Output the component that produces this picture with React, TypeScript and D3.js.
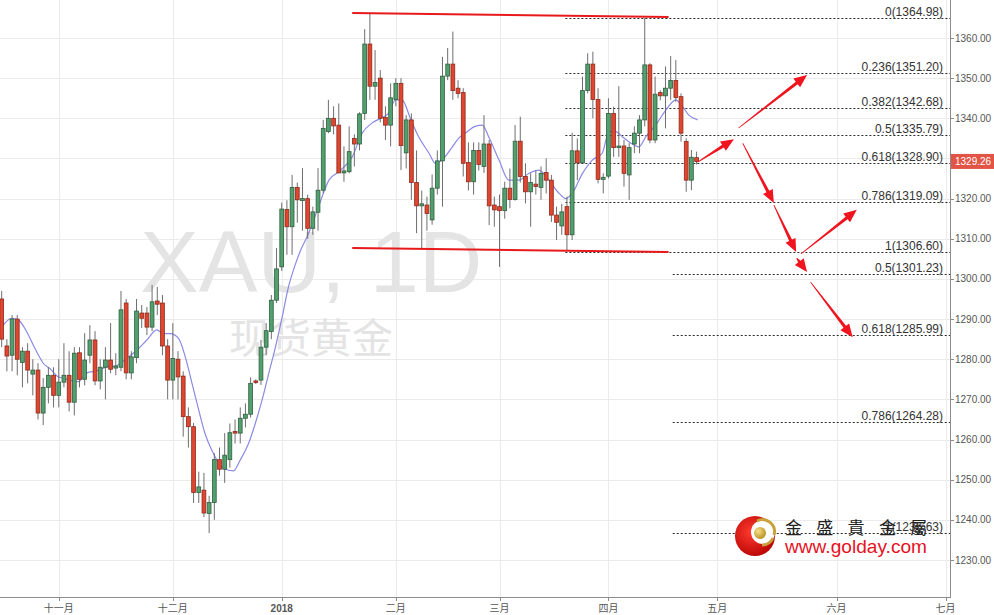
import React from "react";
import * as d3 from "d3";

// ---------- DATA ----------
const opens = [1295,1283.3,1281,1290,1279.2,1282,1276.3,1277.3,1266.6,1273,1276,1271,1274.3,1276,1269.3,1281.6,1275,1281,1284.8,1274.6,1278,1279.8,1277.8,1278,1294,1276.6,1280.4,1291.5,1291.5,1288,1294.5,1294,1283.3,1274.8,1280,1275.8,1265.7,1263.2,1246.8,1247.4,1241.6,1244.3,1255,1252.6,1255,1262,1261.6,1265.3,1266.3,1274.6,1274.8,1283,1286.9,1294.7,1303,1317.3,1313,1322.8,1319.5,1320,1312.6,1316.6,1322.1,1336.7,1340,1338.3,1326.4,1326.7,1335,1333.6,1341.2,1358.5,1348,1350,1340.2,1338.3,1344.7,1348.7,1331.4,1339.6,1324,1318.2,1318.4,1314.7,1322.6,1329.4,1350.5,1353.5,1347.5,1346.4,1329,1324.2,1332,1328,1333.6,1318.4,1318,1317,1322.6,1319.8,1334.3,1325.5,1321.7,1323.6,1322.8,1326.5,1324.6,1315.9,1313.2,1318,1311,1331.9,1328.9,1346.9,1353.5,1344.7,1324.8,1325.6,1341.2,1332.7,1333.1,1325.9,1333.6,1336.3,1339.6,1353.3,1334.6,1346.4,1345.6,1347.5,1349.4,1345.4,1334.2,1324.6,1330.2];
const highs = [1297,1285,1291,1291,1283,1284,1280,1279,1275.3,1278,1278,1280,1284,1282,1283,1283,1286.5,1288.5,1287,1280,1283,1289,1281.5,1297,1295,1282,1295,1293.5,1293,1298.5,1298,1296,1285,1289,1282,1277,1268,1264.1,1252,1251.7,1246,1256.6,1258,1261.6,1264,1265,1268,1269,1275.5,1275,1284.8,1289,1296,1307.7,1319,1319.6,1325.9,1324,1327.6,1321,1318,1327.6,1339.6,1344.6,1343,1343.7,1333,1338,1336,1341.5,1362.2,1366,1357,1352,1343,1348.7,1350,1350,1340.8,1341.2,1332,1322,1320.5,1326,1332,1355.3,1357.5,1361.6,1349.5,1347.5,1334,1334,1334,1340.8,1334.6,1320.5,1321,1324.2,1327.5,1338.3,1340.4,1328.8,1326.3,1327,1328,1330,1325.9,1318,1318.7,1320.5,1336.4,1335,1350.4,1356.2,1356.6,1347.5,1326.3,1345,1342.9,1348,1334.6,1333.8,1338,1340.8,1365,1353.7,1350.4,1347,1352.9,1355.5,1354.5,1346.2,1335,1332.1,1331.7];
const lows = [1283,1277,1277,1276,1273,1274,1271,1265,1263.6,1269,1268,1268,1273,1267,1266,1273,1273.5,1279,1273.5,1272.5,1270,1276.5,1276,1277,1275,1275,1279,1287.8,1286,1287,1291,1281,1270,1270,1270,1260.7,1258,1244.2,1244.2,1240.7,1236.7,1240,1251,1249.2,1253,1259,1259,1263,1265.5,1273.8,1273.6,1281,1285,1294,1302,1306,1306,1314,1312,1310,1311,1312,1321.4,1336.3,1336,1326.4,1324.2,1326.3,1328,1332,1339.6,1344.6,1344.6,1339,1334.6,1333,1343,1327.1,1327.5,1319.7,1311.4,1307.5,1312,1313.5,1321,1318,1349.5,1344.6,1345,1325.5,1322,1321,1327,1326.4,1313.4,1313,1303,1315,1317.6,1319.5,1324,1318.8,1313,1321,1319.7,1321.3,1314.2,1309.7,1311,1307.2,1309.7,1324.6,1328.8,1346.2,1340,1323.8,1321.3,1325,1330.4,1330.4,1323,1319.7,1331.3,1331.3,1338,1333.8,1333.8,1344.5,1337.5,1344.6,1344.1,1334.2,1321.7,1322.1,1328.5];
const closes = [1285,1280.8,1290,1280,1282,1277.3,1277.3,1266.6,1273,1276,1271,1274.3,1276,1269.3,1281.5,1275,1279.8,1284.8,1274.6,1278,1279.8,1277.5,1278.3,1292.3,1276.6,1280.6,1292,1290.2,1288,1294.3,1293.7,1283.3,1274.8,1280.2,1275.6,1265.7,1263.2,1246.8,1248.2,1241.7,1244.3,1255,1252.6,1256.1,1261.7,1261.6,1265.3,1266.3,1274,1274.2,1283,1287.1,1294.7,1302.5,1317.4,1313,1322.8,1319.7,1320,1312.6,1316.7,1322.1,1337.5,1340,1338.1,1326.4,1326.9,1331.7,1333.6,1341.1,1358.5,1348,1348.9,1340,1338.3,1345.1,1348.7,1333.2,1339.6,1324,1318.2,1318.7,1316.3,1322.6,1329.4,1350.5,1353.5,1346.9,1346.2,1328.8,1324.2,1332,1328.5,1333.6,1318.2,1317.2,1317,1322.6,1319.8,1334.3,1325.5,1321.7,1324,1323,1326.3,1324.6,1315.9,1314.1,1316.7,1311,1331.9,1328.9,1346.9,1353.5,1344.7,1324.8,1325.3,1341.2,1332.7,1333.1,1326.3,1332.7,1336.3,1339.6,1353.3,1334.6,1346,1345.6,1347.5,1349.4,1345.2,1336.3,1324.6,1330.3,1329.26];

const maIdx = [0.3,1.9,3.2,4.8,6.1,7.1,8,9.3,10.9,11.9,13.2,14.8,16.4,18.3,20.3,21.9,24.1,26.1,28,29.9,31.2,32.5,34.1,35.4,36.7,38,39.2,40.5,41.5,42.8,44.7,46,47.6,48.9,50.2,51.5,52.8,54.1,55.3,56.6,57.6,59.2,61.1,63.1,65,67.6,69.5,71.4,73.4,74.6,75.9,77.2,78.8,80.4,82.4,83.6,84.9,86.9,88.1,89.4,91.3,92.7,93.9,95.9,97.8,99.7,101.7,103.6,105.5,107.5,108.8,110,112,113.9,115.8,117.1,118.4,119.7,121.6,122.9,124.2,126.1,128.1,130,131.3,132.5,134.2];
const maVal = [1288.5,1290.2,1289.8,1286.9,1283.5,1281,1279,1277.7,1275.6,1275.3,1274.8,1274.4,1276.6,1277.1,1278.1,1278.3,1280.2,1282.3,1284.8,1287.3,1286.4,1286.4,1285.2,1280.6,1274,1267.3,1261.5,1257.4,1254.9,1252.8,1252.2,1254.9,1259,1264,1269.8,1276.5,1283.1,1290.6,1298,1303.5,1307,1311.4,1318,1324.6,1326.7,1330.4,1336.3,1338.8,1340.2,1341.2,1344.6,1344.6,1340,1335.4,1331.3,1328.8,1329.6,1332.9,1335,1336.3,1338,1338.3,1335.4,1329.6,1324.6,1324.6,1326.3,1327.1,1324.6,1321.3,1320,1321.3,1326.3,1329.6,1331.3,1336.7,1336.7,1335.4,1333.6,1332.9,1335.4,1338.3,1342.1,1344.6,1342.9,1340.8,1339.6];

const monthTickIdx = [11, 33, 54, 76, 96, 117, 138, 161, 182];
const monthTickLabels = ["十一月", "十二月", "2018", "二月", "三月", "四月", "五月", "六月", "七月"];
const priceTicks = [1360, 1350, 1340, 1330, 1320, 1310, 1300, 1290, 1280, 1270, 1260, 1250, 1240, 1230];

const fibRatiosA = ["0", "0.236", "0.382", "0.5", "0.618", "0.786", "1"];
const fibPricesA = [1364.98, 1351.2, 1342.68, 1335.79, 1328.9, 1319.09, 1306.6];
const fibStartA = 108.7;
const fibRatiosB = ["0.5", "0.618", "0.786", "1"];
const fibPricesB = [1301.23, 1285.99, 1264.28, 1236.63];
const fibStartB = 129.4;

const lastPrice = 1329.26;

const trendTop = [[67.6, 1366.2], [128.6, 1365.2]];
const trendBottom = [[67.6, 1307.7], [128.6, 1306.7]];

const arrowFrom = [[134.2, 1329.1], [142.1, 1337.6], [142.9, 1333.8], [148.9, 1318.4], [154.1, 1306.2], [153.3, 1305.2], [156.0, 1299.2]];
const arrowTo = [[141.2, 1334.8], [155.3, 1350.8], [148.9, 1318.9], [153.2, 1306.7], [164.9, 1317.2], [155.3, 1301.7], [164.1, 1285.5]];

// ---------- LAYOUT ----------
const W = 994, H = 615;
const AXIS_X = 950, AXIS_Y = 597;
const x = d3.scaleLinear().domain([0, 182]).range([1.7, 945.5]);
const y = d3.scaleLinear().domain([1230, 1360]).range([560, 38]);

const LATIN = "'Liberation Sans', Arial, sans-serif";
const CJK = "'Noto Sans CJK SC', 'Liberation Sans', sans-serif";

function arrowPoly(x0: number, y0: number, x1: number, y1: number) {
  const dx = x1 - x0, dy = y1 - y0;
  const L = Math.hypot(dx, dy);
  const ux = dx / L, uy = dy / L;
  const px = -uy, py = ux;
  const hl = 13, hw = 5.5, lw = 1.6;
  const bx = x1 - ux * hl, by = y1 - uy * hl;
  const pts = [
    [x0 + px * 0.4, y0 + py * 0.4],
    [bx + px * lw, by + py * lw],
    [bx + px * hw, by + py * hw],
    [x1, y1],
    [bx - px * hw, by - py * hw],
    [bx - px * lw, by - py * lw],
    [x0 - px * 0.4, y0 - py * 0.4],
  ];
  return pts.map((p) => p.join(",")).join(" ");
}

export default function App() {
  const maLine = d3
    .line<number>()
    .x((d) => x(maIdx[d]))
    .y((d) => y(maVal[d]))
    .curve(d3.curveMonotoneX);
  const maPath = maLine(maIdx.map((_, i) => i)) || "";
  const bw = 3.8;
  const boxY = y(lastPrice);

  return (
    <div>
      <style>{`body{margin:0;background:#fff}`}</style>
      <svg width={W} height={H} style={{ display: "block" }}>
        <rect x={0} y={0} width={W} height={H} fill="#fff" />
        {/* grid */}
        {priceTicks.map((p) => (
          <line key={"hg" + p} x1={0} x2={AXIS_X} y1={Math.round(y(p)) + 0.5} y2={Math.round(y(p)) + 0.5} stroke="#ebebeb" />
        ))}
        {monthTickIdx.map((m) => (
          <line key={"vg" + m} x1={Math.round(x(m)) + 0.5} x2={Math.round(x(m)) + 0.5} y1={0} y2={AXIS_Y} stroke="#ebebeb" />
        ))}
        {/* watermark */}
        <text x={140} y={292} fontFamily={LATIN} fontSize={88} fill="#e4e4e4">XAU, 1D</text>
        <text x={229} y={353} fontFamily={CJK} fontSize={41} fill="#e4e4e4">现货黄金</text>

        {/* fib lines */}
        {fibPricesA.map((p, i) => (
          <g key={"fa" + i}>
            <line x1={x(fibStartA)} x2={AXIS_X} y1={Math.round(y(p)) + 0.5} y2={Math.round(y(p)) + 0.5} stroke="#2a2a2a" strokeDasharray="2,2" />
            <text x={943} y={y(p) - 2} textAnchor="end" fontFamily={LATIN} fontSize={12} fill="#333">{`${fibRatiosA[i]}(${p.toFixed(2)})`}</text>
          </g>
        ))}
        {fibPricesB.map((p, i) => (
          <g key={"fb" + i}>
            <line x1={x(fibStartB)} x2={AXIS_X} y1={Math.round(y(p)) + 0.5} y2={Math.round(y(p)) + 0.5} stroke="#2a2a2a" strokeDasharray="2,2" />
            <text x={943} y={y(p) - 2} textAnchor="end" fontFamily={LATIN} fontSize={12} fill="#333">{`${fibRatiosB[i]}(${p.toFixed(2)})`}</text>
          </g>
        ))}

        {/* MA */}
        <path d={maPath} fill="none" stroke="#8a8ae6" strokeWidth={1.2} />

        {/* candles */}
        {opens.map((o, i) => {
          const c = closes[i];
          const up = c >= o;
          const cx = x(i);
          const top = y(Math.max(o, c));
          const bot = y(Math.min(o, c));
          return (
            <g key={"c" + i}>
              <line x1={cx} x2={cx} y1={y(highs[i])} y2={y(lows[i])} stroke="#6e6e6e" strokeWidth={1} />
              <rect
                x={cx - bw / 2}
                y={top}
                width={bw}
                height={Math.max(1, bot - top)}
                fill={up ? "#53a06f" : "#e0452f"}
                stroke={up ? "#2f5e3f" : "#8c2a1c"}
                strokeWidth={0.8}
              />
            </g>
          );
        })}

        {/* trend lines */}
        {[trendTop, trendBottom].map((t, i) => (
          <line key={"t" + i} x1={x(t[0][0])} y1={y(t[0][1])} x2={x(t[1][0])} y2={y(t[1][1])} stroke="#e8191a" strokeWidth={2} />
        ))}

        {/* arrows */}
        {arrowFrom.map((f, i) => (
          <polygon key={"a" + i} points={arrowPoly(x(f[0]), y(f[1]), x(arrowTo[i][0]), y(arrowTo[i][1]))} fill="#f0141e" />
        ))}

        {/* right axis */}
        <rect x={AXIS_X} y={0} width={W - AXIS_X} height={AXIS_Y} fill="#fff" />
        <line x1={AXIS_X + 0.5} x2={AXIS_X + 0.5} y1={0} y2={AXIS_Y} stroke="#8c8c8c" />
        {priceTicks.map((p) => (
          <g key={"yt" + p}>
            <line x1={AXIS_X} x2={AXIS_X + 4} y1={Math.round(y(p)) + 0.5} y2={Math.round(y(p)) + 0.5} stroke="#8c8c8c" />
            {Math.abs(y(p) - boxY) > 12 && (
              <text x={955} y={y(p)} dy="0.35em" fontFamily={LATIN} fontSize={10} fill="#555">{p.toFixed(2)}</text>
            )}
          </g>
        ))}
        <rect x={951} y={boxY - 7.5} width={43} height={15} fill="#e25445" />
        <text x={955} y={boxY} dy="0.35em" fontFamily={LATIN} fontSize={10} fill="#fff">{lastPrice.toFixed(2)}</text>

        {/* bottom axis */}
        <rect x={0} y={AXIS_Y} width={W} height={H - AXIS_Y} fill="#fff" />
        <line x1={0} x2={AXIS_X + 1} y1={AXIS_Y + 0.5} y2={AXIS_Y + 0.5} stroke="#8c8c8c" />
        {monthTickIdx.map((m, i) => (
          <g key={"xt" + m}>
            <line x1={Math.round(x(m)) + 0.5} x2={Math.round(x(m)) + 0.5} y1={AXIS_Y} y2={AXIS_Y + 4} stroke="#8c8c8c" />
            <text
              x={x(m)}
              y={608}
              dy="0.35em"
              textAnchor="middle"
              fontFamily={monthTickLabels[i] === "2018" ? LATIN : CJK}
              fontWeight={monthTickLabels[i] === "2018" ? "bold" : "normal"}
              fontSize={10}
              fill="#555"
            >
              {monthTickLabels[i]}
            </text>
          </g>
        ))}

        {/* logo */}
        <defs>
          <radialGradient id="lg" cx="0.4" cy="0.4" r="0.7">
            <stop offset="0" stopColor="#ff3b2f" />
            <stop offset="1" stopColor="#b30000" />
          </radialGradient>
          <radialGradient id="gb" cx="0.35" cy="0.35" r="0.7">
            <stop offset="0" stopColor="#f7e08a" />
            <stop offset="1" stopColor="#b8901e" />
          </radialGradient>
        </defs>
        <circle cx={755} cy={536} r={20} fill="url(#lg)" />
        <circle cx={763} cy={532} r={12} fill="#fff" />
        <path d="M 757 521 A 12 12 0 0 1 774 535" fill="none" stroke="#c9a23a" strokeWidth={3} />
        <path d="M 773 538 A 12 12 0 0 1 762 545" fill="none" stroke="#c9a23a" strokeWidth={3} />
        <circle cx={760} cy={533} r={6} fill="url(#gb)" />
        <text x={785} y={534} fontFamily={CJK} fontSize={17} fill="#222" letterSpacing={14.3}>金盛貴金屬</text>
        <text x={785} y={553} fontFamily={LATIN} fontSize={19} fill="#e6121e" textLength={142} lengthAdjust="spacingAndGlyphs">www.golday.com</text>
      </svg>
    </div>
  );
}
